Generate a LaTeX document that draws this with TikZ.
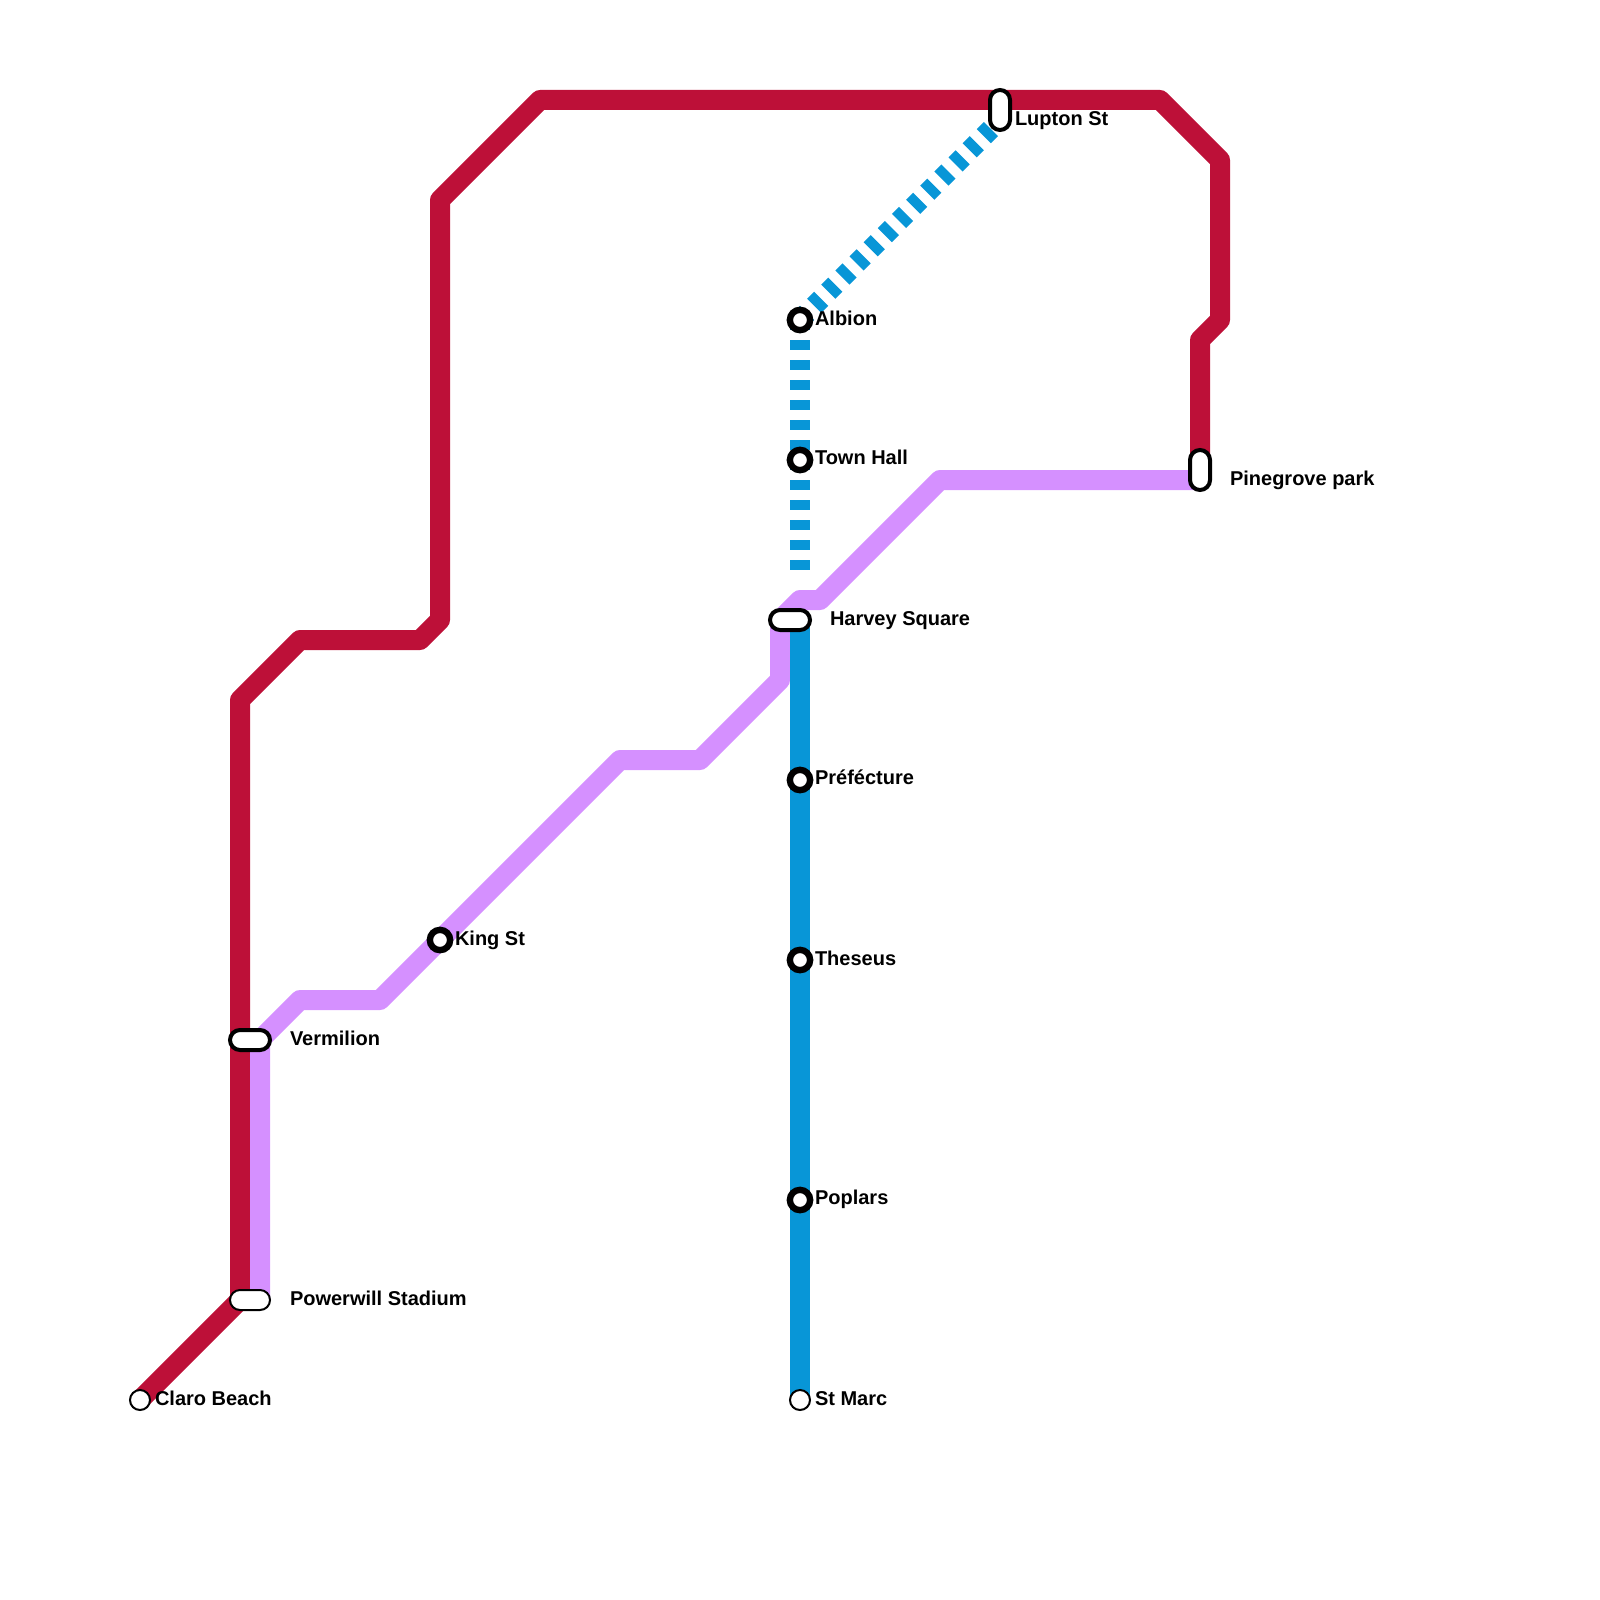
\documentclass[tikz,border=0pt]{standalone}
\usepackage{fontspec}
\setmainfont{Liberation Sans}
\definecolor{redline}{HTML}{BD1038}
\definecolor{purpleline}{HTML}{D590FF}
\definecolor{blueline}{HTML}{0896D7}
\tikzset{
  metro/.style={line width=20pt,line join=round},
  dashline/.style={metro,draw=blueline,dash pattern=on 10pt off 10pt},
  stop/.style={circle,draw=black,fill=white,line width=6.4pt,minimum size=20.3pt,inner sep=0pt},
  endstop/.style={circle,draw=black,fill=white,line width=2pt,minimum size=20pt,inner sep=0pt},
  hpill/.style={rectangle,rounded corners=10pt,draw=black,fill=white,line width=4pt,minimum width=40pt,minimum height=20pt,inner sep=0pt},
  vpill/.style={hpill,minimum width=20pt,minimum height=40pt},
  thinpill/.style={hpill,line width=2pt},
  lbl/.style={anchor=base west,inner sep=0pt,outer sep=0pt,text=black,font=\fontsize{20}{24}\selectfont\bfseries}
}
\begin{document}
\begin{tikzpicture}[x=1pt,y=-1pt]
\useasboundingbox (0,0) rectangle (1600,1600);
% junction points
\coordinate (pClaro) at (140,1400);
\coordinate (r1) at (240,1300);
\coordinate (r2) at (240,700);
\coordinate (r3) at (300,640);
\coordinate (r4) at (420,640);
\coordinate (r5) at (440,620);
\coordinate (r6) at (440,200);
\coordinate (r7) at (540,100);
\coordinate (r8) at (1160,100);
\coordinate (r9) at (1220,160);
\coordinate (r10) at (1220,320);
\coordinate (r11) at (1200,340);
\coordinate (r12) at (1200,460);
\coordinate (u0) at (260,1300);
\coordinate (u1) at (260,1040);
\coordinate (u2) at (300,1000);
\coordinate (u3) at (380,1000);
\coordinate (u4) at (620,760);
\coordinate (u5) at (700,760);
\coordinate (u6) at (780,680);
\coordinate (u7) at (780,620);
\coordinate (u8) at (800,600);
\coordinate (u9) at (820,600);
\coordinate (u10) at (940,480);
\coordinate (u11) at (1200,480);
\coordinate (b0) at (800,620);
\coordinate (b1) at (800,1400);
\coordinate (bA) at (800,320);
\coordinate (bL) at (1000,120);
\coordinate (bE) at (800,580);
% lines
\draw[metro,draw=redline] (pClaro)--(r1)--(r2)--(r3)--(r4)--(r5)--(r6)--(r7)--(r8)--(r9)--(r10)--(r11)--(r12);
\draw[metro,draw=purpleline] (u0)--(u1)--(u2)--(u3)--(u4)--(u5)--(u6)--(u7)--(u8)--(u9)--(u10)--(u11);
\draw[metro,draw=blueline] (b0)--(b1);
\draw[dashline] (bA)--(bL);
\draw[dashline] (bA)--(bE);
% stations
\node[stop] (albion) at (bA) {};
\node[stop] (townhall) at (800,460) {};
\node[stop] (prefecture) at (800,780) {};
\node[stop] (theseus) at (800,960) {};
\node[stop] (poplars) at (800,1200) {};
\node[stop] (kingst) at (440,940) {};
\node[endstop] (stmarc) at (b1) {};
\node[endstop] (claro) at (pClaro) {};
\node[hpill] (harvey) at (790,620) {};
\node[hpill] (vermilion) at (250,1040) {};
\node[thinpill] (powerwill) at (250,1300) {};
\node[vpill] (lupton) at (1000,110) {};
\node[vpill] (pinegrove) at (1200,470) {};
% labels
\node[lbl] (tAlbion) at (815,325) {Albion};
\node[lbl] (tTown) at (815,464.3) {Town Hall};
\node[lbl] (tPref) at (815,784.3) {Préfécture};
\node[lbl] (tThes) at (815,965) {Theseus};
\node[lbl] (tPop) at (815,1204.3) {Poplars};
\node[lbl] (tMarc) at (815,1405) {St Marc};
\node[lbl] (tKing) at (455,945) {King St};
\node[lbl] (tClaro) at (155,1405) {Claro Beach};
\node[lbl] (tHarvey) at (830,625) {Harvey Square};
\node[lbl] (tVerm) at (290,1045) {Vermilion};
\node[lbl] (tPower) at (290,1305) {Powerwill Stadium};
\node[lbl] (tLupton) at (1015,125) {Lupton St};
\node[lbl] (tPine) at (1230,485) {Pinegrove park};
\end{tikzpicture}
\end{document}
